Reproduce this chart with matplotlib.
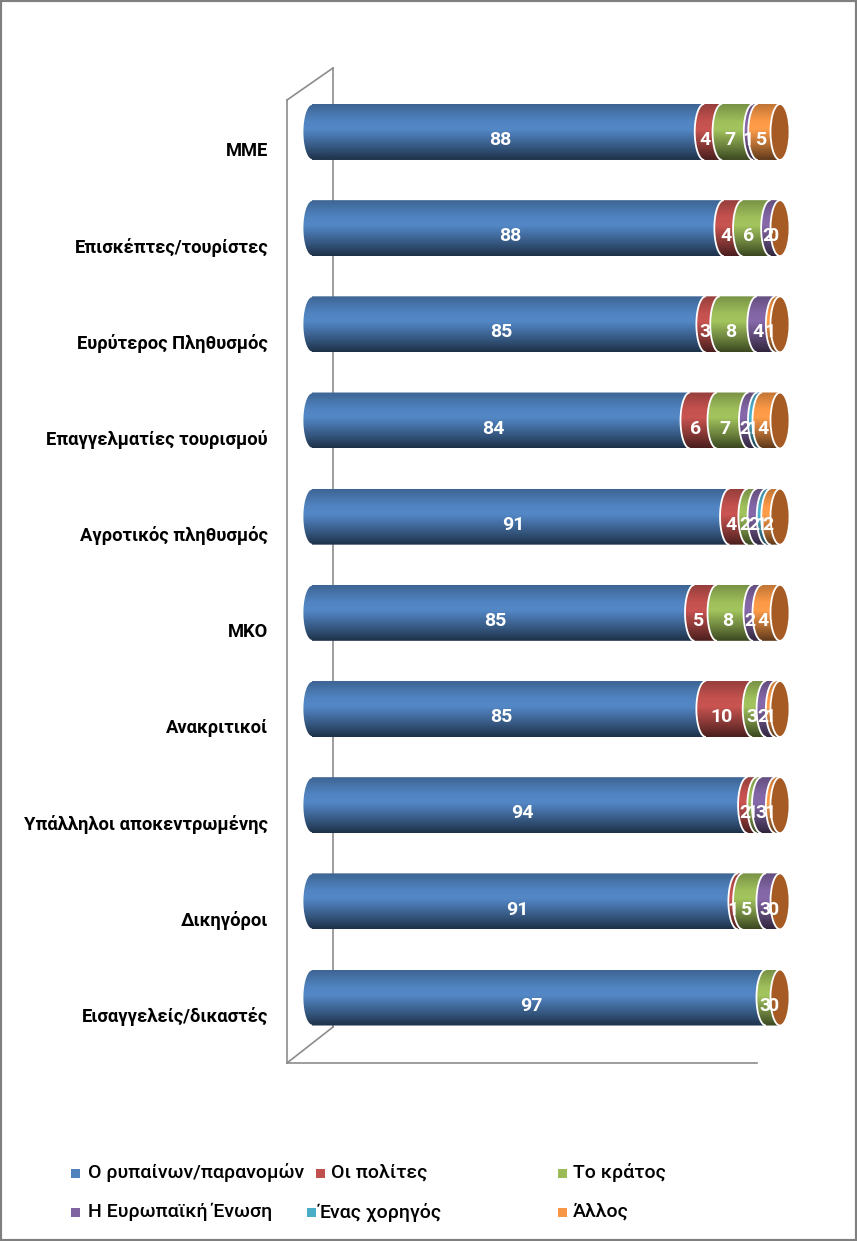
import numpy as np
import matplotlib
matplotlib.use('Agg')
import matplotlib.pyplot as plt
from matplotlib.path import Path
from matplotlib.patches import PathPatch, Ellipse, Rectangle
from matplotlib.colors import LinearSegmentedColormap, to_rgb
from matplotlib.lines import Line2D

# ---------------- data ----------------
categories = ['ΜΜΕ', 'Επισκέπτες/τουρίστες', 'Ευρύτερος Πληθυσμός',
              'Επαγγελματίες τουρισμού', 'Αγροτικός πληθυσμός', 'ΜΚΟ',
              'Ανακριτικοί', 'Υπάλληλοι αποκεντρωμένης', 'Δικηγόροι',
              'Εισαγγελείς/δικαστές']
series_names = ['Ο ρυπαίνων/παρανομών', 'Οι πολίτες', 'Το κράτος',
                'Η Ευρωπαϊκή Ένωση', 'Ένας χορηγός', 'Άλλος']
polluter = [88, 88, 85, 84, 91, 85, 85, 94, 91, 97]
citizens = [4, 4, 3, 6, 4, 5, 10, 2, 1, 0]
state    = [7, 6, 8, 7, 2, 8, 3, 1, 5, 3]
eu       = [1, 2, 4, 2, 2, 2, 2, 3, 3, 0]
sponsor  = [0, 0, 0, 1, 1, 0, 0, 0, 0, 0]
other    = [5, 0, 1, 4, 2, 4, 1, 1, 0, 0]
series = [polluter, citizens, state, eu, sponsor, other]
colors = ['#4F81BD', '#C0504D', '#9BBB59', '#8064A2', '#4BACC6', '#F79646']
cap_color = '#A65A24'

# ---------------- figure ----------------
W, H = 857, 1241
fig = plt.figure(figsize=(W / 100, H / 100), dpi=100)
fig.patch.set_facecolor('white')

def fx(px):
    return px / W

def fy(py):
    return 1 - py / H

# axes: x 0..100 (percent of row total), y = row index
ax = fig.add_axes([fx(288.6), fy(1045.6), fx(803.4) - fx(288.6), fy(83.9) - fy(1045.6)])
ax.set_xlim(-5, 105)
ax.set_ylim(-0.5, 9.5)
ax.axis('off')

# 3D walls (decoration)
wall = '#8C8C8C'
for (x0, y0, x1, y1) in [(287, 100, 287, 1063), (287, 100, 333, 68),
                         (333, 68, 333, 1027), (287, 1063, 333, 1027),
                         (287, 1063, 757, 1063)]:
    ax.add_line(Line2D([fx(x0), fx(x1)], [fy(y0), fy(y1)], transform=fig.transFigure,
                       color=wall, lw=1.2, zorder=0, clip_on=False))

# outer border
fig.add_artist(Rectangle((0, 0), 1, 1, transform=fig.transFigure, fill=False,
                         edgecolor='#7F7F7F', lw=3.0, zorder=10))

def shade_cmap(c):
    r = np.array(to_rgb(c))
    stops = [(0.0, r * 0.38), (0.25, r * 0.70), (0.55, np.clip(r * 1.05, 0, 1)),
             (0.70, np.clip(r * 1.02, 0, 1)), (1.0, r * 0.78)]
    return LinearSegmentedColormap.from_list('s', [(p, tuple(v)) for p, v in stops])

grad = np.linspace(0, 1, 128).reshape(-1, 1)
h = 0.291
rx = 2.03
n = len(categories)
cmaps = [shade_cmap(c) for c in colors]
t = np.linspace(np.pi / 2, 3 * np.pi / 2, 40)

for r in range(n):
    yc = n - 1 - r
    vals = np.array([s[r] for s in series], dtype=float)
    total = vals.sum()
    frac = vals / total * 100
    lefts = np.concatenate([[0], np.cumsum(frac)[:-1]])
    z = 2
    for i in range(len(series)):
        if vals[i] <= 0:
            continue
        L, R = lefts[i], lefts[i] + frac[i]
        arc_x = L + rx * np.cos(t)
        arc_y = yc + h * np.sin(t)
        verts = [(L, yc + h)] + list(zip(arc_x, arc_y))[1:-1] + [(L, yc - h), (R, yc - h), (R, yc + h), (L, yc + h)]
        codes = [Path.MOVETO] + [Path.LINETO] * (len(verts) - 2) + [Path.CLOSEPOLY]
        patch = PathPatch(Path(verts, codes), facecolor='none', edgecolor='none', zorder=z)
        ax.add_patch(patch)
        im = ax.imshow(grad, cmap=cmaps[i], extent=[L - rx, R, yc - h, yc + h],
                       origin='lower', aspect='auto', zorder=z, interpolation='bilinear')
        im.set_clip_path(patch)
        ax.plot(arc_x, arc_y, color='white', lw=1.3, zorder=z + 0.5, solid_capstyle='butt')
        z += 1
    ax.add_patch(Ellipse((100, yc), 2 * rx, 2 * h, facecolor=cap_color,
                         edgecolor='white', lw=1.3, zorder=z))
    z += 1
    # data labels
    for i in range(len(series)):
        if vals[i] > 0 or i == len(series) - 1:
            cx = lefts[i] + frac[i] / 2 - 0.8 * rx
            ax.text(cx, yc - 0.085, f'{int(vals[i])}', color='white', fontsize=14,
                    fontweight='bold', family='Roboto', ha='center', va='center', zorder=z)
    # category label
    ax.text(-0.04, yc - 0.2, categories[r], transform=ax.get_yaxis_transform(),
            ha='right', va='center', fontsize=13.2, fontweight='bold', family='Roboto',
            color='black')

# legend (manual layout)
leg = [(0, 71, 87.5, 1173), (1, 316, 331, 1173), (2, 558, 573, 1173),
       (3, 71, 87.5, 1212), (4, 307, 319, 1212), (5, 558, 573, 1212)]
for i, mx, tx, yy in leg:
    fig.add_artist(Rectangle((fx(mx), fy(yy + 4.5)), fx(8.5), 9 / H, transform=fig.transFigure,
                             facecolor=colors[i], edgecolor='none'))
    fig.text(fx(tx), fy(yy), series_names[i], fontsize=14, family='Roboto',
             fontweight='medium', ha='left', va='center', color='black')

fig.savefig('out.png', dpi=100, facecolor='white')
